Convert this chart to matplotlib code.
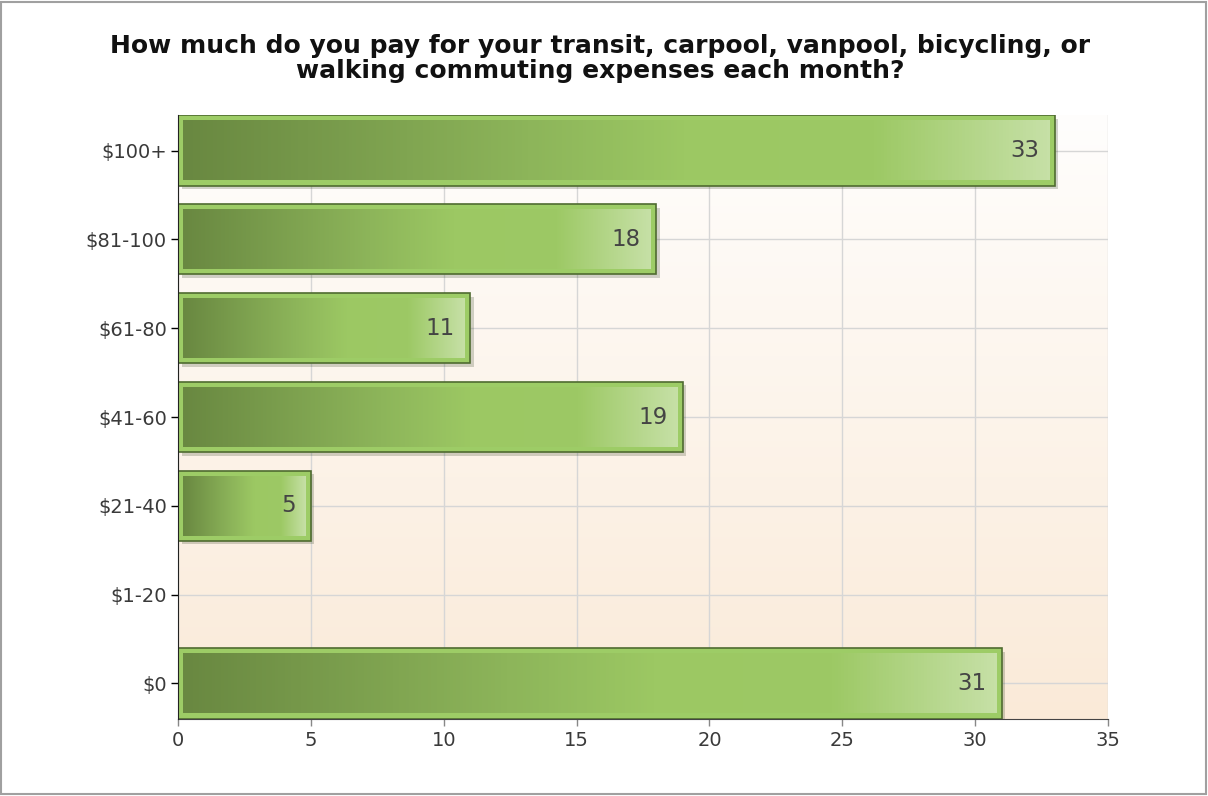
import numpy as np
import matplotlib.pyplot as plt
import matplotlib.patheffects as pe
from matplotlib.colors import LinearSegmentedColormap
from matplotlib.patches import Rectangle

plt.rcParams['font.family'] = ['DejaVu Sans']

categories = ['$0', '$1-20', '$21-40', '$41-60', '$61-80', '$81-100', '$100+']
counts = [31, 0, 5, 19, 11, 18, 33]
title = ('How much do you pay for your transit, carpool, vanpool, bicycling, or\n'
         'walking commuting expenses each month?')

bar_cmap = LinearSegmentedColormap.from_list('bar', [
    (0.0, '#698841'), (0.4, '#8db55a'), (0.58, '#9cc863'),
    (0.8, '#9dc965'), (1.0, '#c6e0a6')])
bg_cmap = LinearSegmentedColormap.from_list('bg', ['#faead8', '#fffefd'])

fig = plt.figure(figsize=(12.08, 7.96), dpi=100)
ax = fig.add_axes([0.1474, 0.0967, 0.7698, 0.7588])

# plot background gradient
ax.imshow(np.linspace(0, 1, 256).reshape(-1, 1)[::-1], cmap=bg_cmap,
          extent=[0, 1, 0, 1], transform=ax.transAxes, aspect='auto', zorder=0)

ypos = np.arange(len(categories))
h = 0.79
bars = ax.barh(ypos, counts, height=h, color='#9dcc66', edgecolor='#4f6b30',
               linewidth=1.2, zorder=3)
for b in bars:
    b.set_path_effects([pe.SimplePatchShadow(offset=(2.5, -2.5), alpha=0.22), pe.Normal()])

# inner gradient of each bar
dx, dy = 0.2, 0.06
grad = np.linspace(0, 1, 256).reshape(1, -1)
for y, v in zip(ypos, counts):
    if v <= 0:
        continue
    ax.imshow(grad, cmap=bar_cmap, aspect='auto', zorder=4,
              extent=[dx, v - dx, y - h / 2 + dy, y + h / 2 - dy])
    ax.annotate(str(v), (v, y), xytext=(-11, 0), textcoords='offset points',
                ha='right', va='center', fontsize=16.5, color='#444444', zorder=5)

ax.set_xlim(0, 35)
ax.set_ylim(-0.4, 6.4)
ax.set_xticks(range(0, 36, 5))
ax.set_yticks(ypos)
ax.set_yticklabels(categories)
ax.tick_params(axis='both', labelsize=14, labelcolor='#3a3a3a', length=5, width=1)
ax.tick_params(axis='x', colors='#888888', labelcolor='#3a3a3a')
ax.tick_params(axis='y', pad=3)
ax.grid(True, color='#d6d6d6', linewidth=1, zorder=1)
ax.set_axisbelow(True)
for s in ['top', 'right']:
    ax.spines[s].set_visible(False)
ax.spines['left'].set_color('#222222')
ax.spines['bottom'].set_color('#444444')
ax.spines['left'].set_zorder(6)

fig.text(0.497, 0.9265, title, ha='center', va='center', fontsize=18,
         fontweight='bold', color='#111111', linespacing=1.08)

fig.patches.append(Rectangle((0.001, 0.002), 0.997, 0.996, transform=fig.transFigure,
                             fill=False, edgecolor='#a0a0a0', linewidth=1.5))

fig.savefig('out.png', dpi=100)
